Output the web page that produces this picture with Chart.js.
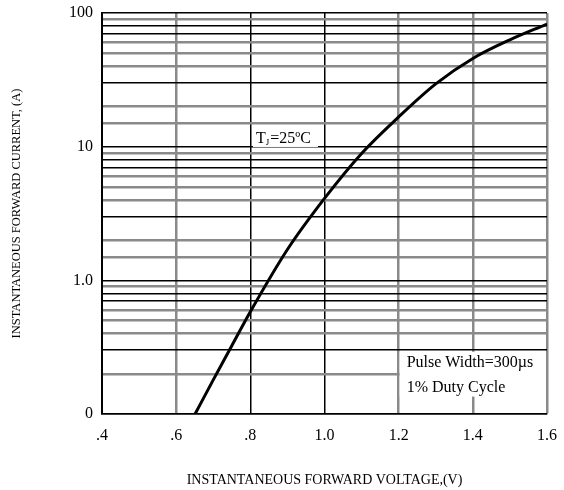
<!DOCTYPE html>
<html>
<head>
  <meta charset="UTF-8" />
  <title>Forward Characteristics</title>
  <script src="https://cdn.jsdelivr.net/npm/chart.js"></script>
  <style>
    body { margin: 0; background: #fff; }
    #wrap { width: 564px; height: 490px; }
  </style>
</head>
<body>
  <div id="wrap"><canvas id="chart"></canvas></div>
  <script>
    // curve
    const voltage = [0.651, 0.7, 0.75, 0.8, 0.9, 1.0, 1.1, 1.2, 1.3, 1.4, 1.5, 1.6];
    const current = [0.1, 0.18, 0.324, 0.582, 1.70, 4.10, 8.9, 16.7, 29.5, 45.7, 63, 82.6];
    const xTicks = [0.4, 0.6, 0.8, 1.0, 1.2, 1.4, 1.6];
    const xTickLabels = ['.4', '.6', '.8', '1.0', '1.2', '1.4', '1.6'];
    const yTickLabels = { 0.1: '0', 1: '1.0', 10: '10', 100: '100' };

    const serif = "'Liberation Serif', 'DejaVu Serif', serif";
    const grayMinor = [2, 4, 5, 6, 9];
    const grayX = [0.6, 1.2, 1.4, 1.6];

    function mant(v) {
      const p = Math.pow(10, Math.floor(Math.log10(v) + 1e-9));
      return Math.round(v / p);
    }

    const notes = {
      id: 'notes',
      afterDatasetsDraw(chart) {
        const { ctx, scales: { x, y } } = chart;
        ctx.save();
        ctx.textBaseline = 'alphabetic';
        // T_J box
        let l = x.getPixelForValue(0.807), t = y.getPixelForValue(13.8);
        ctx.fillStyle = '#fff';
        ctx.fillRect(l, t, 65, 19);
        ctx.fillStyle = '#000';
        let cx = l + 3;
        ctx.font = '16px ' + serif;
        ctx.fillText('T', cx, t + 15);
        cx += ctx.measureText('T').width;
        ctx.font = '9px ' + serif;
        ctx.fillText('J', cx, t + 17);
        cx += ctx.measureText('J').width + 1;
        ctx.font = '16px ' + serif;
        ctx.fillText('=25ºC', cx, t + 15);
        // pulse box
        l = x.getPixelForValue(1.2) + 1; t = y.getPixelForValue(0.292);
        const r = x.getPixelForValue(1.6) - 1, b = y.getPixelForValue(0.135);
        ctx.fillStyle = '#fff';
        ctx.fillRect(l, t, r - l, b - t);
        ctx.fillStyle = '#000';
        ctx.fillText('Pulse Width=300µs', l + 7, t + 15);
        ctx.fillText('1% Duty Cycle', l + 7, t + 40);
        ctx.restore();
      }
    };

    new Chart(document.getElementById('chart'), {
      type: 'scatter',
      data: {
        datasets: [{
          data: voltage.map((v, i) => ({ x: v, y: current[i] })),
          showLine: true,
          borderColor: '#000',
          borderWidth: 3,
          pointRadius: 0,
          cubicInterpolationMode: 'monotone'
        }]
      },
      options: {
        responsive: true,
        maintainAspectRatio: false,
        animation: false,
        layout: { padding: { left: 0, right: 17, top: 13, bottom: 0 } },
        plugins: { legend: { display: false }, tooltip: { enabled: false } },
        scales: {
          x: {
            type: 'linear',
            min: 0.4, max: 1.6,
            afterFit(s) { s.height = 76; s.paddingLeft = 0; s.paddingRight = 0; },
            afterBuildTicks(s) { s.ticks = xTicks.map(v => ({ value: v })); },
            ticks: {
              padding: 12,
              color: '#000',
              font: { family: serif, size: 16 },
              callback: (v) => xTickLabels[xTicks.findIndex(t => Math.abs(t - v) < 1e-6)] ?? ''
            },
            grid: {
              drawTicks: false,
              color: (c) => grayX.some(g => Math.abs(g - c.tick.value) < 1e-6) ? '#8a8a8a' : '#000',
              lineWidth: (c) => grayX.some(g => Math.abs(g - c.tick.value) < 1e-6) ? 2.5 : 1.5
            },
            border: { display: true, color: '#000', width: 1.5 },
            title: {
              display: true,
              text: 'INSTANTANEOUS FORWARD VOLTAGE,(V)',
              color: '#000',
              font: { family: serif, size: 14 },
              padding: { top: 0, bottom: 1 }
            }
          },
          y: {
            type: 'logarithmic',
            min: 0.1, max: 100,
            afterFit(s) { s.width = 102; s.paddingTop = 0; s.paddingBottom = 0; },
            ticks: {
              autoSkip: false,
              padding: 9,
              color: '#000',
              font: { family: serif, size: 16 },
              callback: (v) => {
                for (const k in yTickLabels) if (Math.abs(+k - v) < 1e-9) return yTickLabels[k];
                return '';
              }
            },
            grid: {
              drawTicks: false,
              color: (c) => {
                const m = mant(c.tick.value);
                return (m !== 1 && grayMinor.includes(m)) ? '#8a8a8a' : '#000';
              },
              lineWidth: (c) => {
                const m = mant(c.tick.value);
                return (m !== 1 && grayMinor.includes(m)) ? 2.5 : 1.5;
              }
            },
            border: { display: true, color: '#000', width: 2 },
            title: {
              display: true,
              text: 'INSTANTANEOUS FORWARD CURRENT, (A)',
              color: '#000',
              font: { family: serif, size: 12.5 },
              padding: { top: 9, bottom: 0 }
            }
          }
        }
      },
      plugins: [notes]
    });
  </script>
</body>
</html>
